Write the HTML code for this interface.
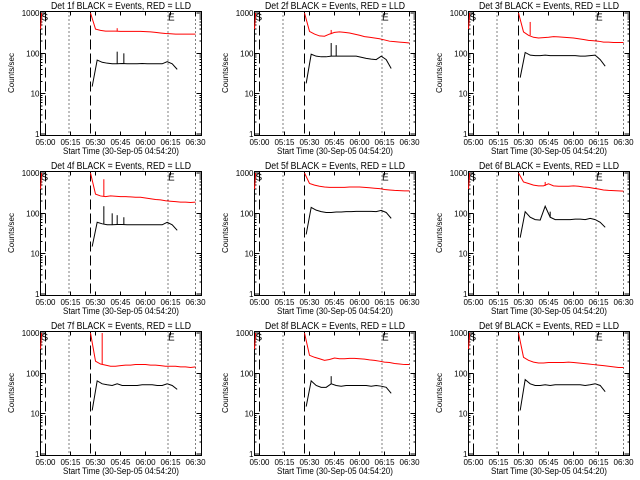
<!DOCTYPE html>
<html><head><meta charset="utf-8"><style>
html,body{margin:0;padding:0;background:#fff;width:640px;height:480px;overflow:hidden}
svg{display:block}
text{font-family:"Liberation Sans",sans-serif;fill:#000}
</style></head><body>
<svg id="chart" width="640" height="480" viewBox="0 0 640 480" xmlns="http://www.w3.org/2000/svg"></svg>
<script>
// time in minutes since 05:00
const redT = [27,30,33,36,39,42,45,48,51,54,57,60,63,66,69,72,75,78,81,84,87,90];
const blackT = [28,31,34,37,40,43,46,49,52,55,58,61,64,67,70,73,76,79];
const tickLabels = ["05:00","05:15","05:30","05:45","06:00","06:15","06:30"];
const tickTimes = [0,15,30,45,60,75,90];
const yTickVals = [1,10,100,1000];
const yTickLabels = ["1","10","100","1000"];
const dashedT = [0,27];
const dottedT = [14,73.5,90];
const detNames = ["1f","2f","3f","4f","5f","6f","7f","8f","9f"];
const red1 = [1000,400,370,355,355,355,350,350,350,350,350,345,340,330,320,310,305,300,300,300,300,300];
const red2 = [1000,350,300,270,265,300,330,340,330,320,300,280,260,250,240,230,215,200,195,190,185,180];
const red3 = [1000,340,280,250,240,245,250,260,255,250,245,240,230,220,210,205,200,190,190,185,185,185];
const red4 = [1000,300,270,260,270,265,260,260,255,250,250,240,230,220,215,205,200,195,190,190,185,190];
const red5 = [1000,550,500,470,450,440,440,440,440,450,450,450,440,430,420,410,390,380,370,365,360,360];
const red6 = [1000,600,550,500,480,480,540,480,470,470,470,480,470,450,440,420,400,380,370,365,360,355];
const red7 = [1000,200,170,160,150,150,155,160,160,165,165,165,160,160,155,150,150,150,145,145,140,145];
const red8 = [1000,280,250,230,210,220,240,230,230,235,235,230,225,215,210,200,190,185,175,170,165,165];
const red9 = [1000,250,210,190,180,180,185,185,185,185,190,185,180,175,170,165,160,155,150,145,140,140];
const black1 = [15,68,60,57,55,55,56,55,55,55,56,55,55,55,55,62,55,40];
const black2 = [18,95,85,82,82,85,85,85,85,85,85,80,75,72,70,85,70,42];
const black3 = [25,105,90,88,88,90,88,88,88,88,88,88,85,85,88,90,70,48];
const black4 = [15,60,55,52,52,53,53,52,52,52,52,52,52,52,52,60,52,38];
const black5 = [30,140,120,110,105,105,108,108,110,110,112,112,112,112,110,118,105,75];
const black6 = [25,110,80,70,68,150,80,70,70,70,70,72,72,70,75,70,60,45];
const black7 = [12,65,55,52,50,55,50,50,50,50,52,52,52,50,50,55,50,40];
const black8 = [15,65,50,45,45,55,50,48,50,50,50,50,50,48,50,48,45,32];
const black9 = [12,70,55,50,50,52,50,52,52,52,52,52,52,50,52,55,50,35];
const redSeries = [red1,red2,red3,red4,red5,red6,red7,red8,red9];
const blackSeries = [black1,black2,black3,black4,black5,black6,black7,black8,black9];
const spikeT1=[43,47], spikeV1=[110,100];
const spikeT2=[43,46], spikeV2=[180,160];
const spikeT4=[35,40,43,47], spikeV4=[150,100,90,80];
const spikeT6=[46], spikeV6=[110];
const spikeT8=[43], spikeV8=[85];
const blackSpikeT=[spikeT1,spikeT2,[],spikeT4,[],spikeT6,[],spikeT8,[]];
const blackSpikeV=[spikeV1,spikeV2,[],spikeV4,[],spikeV6,[],spikeV8,[]];
const redSpikeT=[[43],[43],[34],[35],[],[43],[34],[],[]];
const redSpikeV=[[420],[380],[600],[700],[],[600],[1000],[],[]];
const startRedT=[-3,-2.3];
const startRedV=[400,1000];

const NS="http://www.w3.org/2000/svg";
const svg=document.getElementById('chart');
function mk(tag,attrs,parent){const e=document.createElementNS(NS,tag);for(const k in attrs)e.setAttribute(k,attrs[k]);(parent||svg).appendChild(e);return e;}

const oxs=[0,214,428], oys=[0,160,320];
const K=1.667, W=161;
for(let p=0;p<9;p++){
  const ox=oxs[p%3], oy=oys[Math.floor(p/3)];
  const L=ox+40.5, R=L+W, T=oy+11.5, B=oy+135.5;
  const xS=t=>L+5+t*K;
  const yS=v=>(oy+134)-Math.log10(v)/3*121;
  const g=mk('g',{});
  
  
  const title=mk('text',{x:(L+R)/2,y:oy+9,'font-size':10,'text-anchor':'middle',textLength:140,lengthAdjust:'spacingAndGlyphs'},g);
  title.textContent='Det '+detNames[p]+' BLACK = Events, RED = LLD';
  
  
  const box=mk('rect',{x:L,y:T,width:W,height:B-T,fill:'none',stroke:'#000','stroke-width':1,'shape-rendering':'crispEdges'},g);
  
  
  for(let i=0;i<yTickVals.length;i++){
    const y=yS(yTickVals[i]);
    mk('line',{x1:L,x2:L+5,y1:y,y2:y,stroke:'#000','shape-rendering':'crispEdges'},g);
    mk('line',{x1:R-5,x2:R,y1:y,y2:y,stroke:'#000','shape-rendering':'crispEdges'},g);
    const tl=mk('text',{x:L-1,y:y+3,'font-size':8,'text-anchor':'end'},g);
    tl.textContent=yTickLabels[i];
    
    
    if(i<3){for(let m=2;m<10;m++){const ym=yS(yTickVals[i]*m);
      mk('line',{x1:L,x2:L+2,y1:ym,y2:ym,stroke:'#000','shape-rendering':'crispEdges'},g);
      mk('line',{x1:R-2,x2:R,y1:ym,y2:ym,stroke:'#000','shape-rendering':'crispEdges'},g);}}
  }
  const yl=mk('text',{x:0,y:0,'font-size':8,'text-anchor':'middle',transform:`translate(${ox+14},${oy+73}) rotate(-90)`},g);
  yl.textContent='Counts/sec';
  
  
  for(let i=0;i<tickTimes.length;i++){
    const x=xS(tickTimes[i]);
    mk('line',{x1:x,x2:x,y1:B,y2:B-4,stroke:'#000','shape-rendering':'crispEdges'},g);
    mk('line',{x1:x,x2:x,y1:T,y2:T+4,stroke:'#000','shape-rendering':'crispEdges'},g);
    const xl=mk('text',{x:x,y:oy+145,'font-size':8,'text-anchor':'middle'},g);
    xl.textContent=tickLabels[i];
    
    
  }
  const xt=mk('text',{x:(L+R)/2,y:oy+154,'font-size':9,'text-anchor':'middle',textLength:116,lengthAdjust:'spacingAndGlyphs'},g);
  xt.textContent='Start Time (30-Sep-05 04:54:20)';
  
  
  dashedT.forEach(t=>{const l=mk('line',{x1:xS(t),x2:xS(t),y1:T,y2:B,stroke:'#000','stroke-dasharray':'10,4','shape-rendering':'crispEdges'},g);
    
    });
  dottedT.forEach(t=>{const l=mk('line',{x1:xS(t),x2:xS(t),y1:T,y2:B,stroke:'#000','stroke-dasharray':'1,3','shape-rendering':'crispEdges'},g);
    
    });
  const sl=mk('text',{x:L+1,y:T+9,'font-size':10},g); sl.textContent='S';
  
  
  const el=mk('text',{x:xS(73.5),y:T+9,'font-size':10},g); el.textContent='E';
  
  
  let pts=startRedT.map((t,i)=>xS(t)+','+yS(startRedV[i])).join(' ');
  const rs=mk('polyline',{points:pts,fill:'none',stroke:'#f00','stroke-width':1},g);
  
  
  pts=redT.map((t,i)=>xS(t)+','+yS(redSeries[p][i])).join(' ');
  const rl=mk('polyline',{points:pts,fill:'none',stroke:'#f00','stroke-width':1},g);
  
  
  redSpikeT[p].forEach((t,i)=>{const s=mk('line',{x1:xS(t),x2:xS(t),y1:yS(redSpikeV[p][i]),y2:yS(redSeries[p][Math.min(21,Math.round((t-27)/3))]),stroke:'#f00'},g);
    
    });
  pts=blackT.map((t,i)=>xS(t)+','+yS(blackSeries[p][i])).join(' ');
  const bl=mk('polyline',{points:pts,fill:'none',stroke:'#000','stroke-width':1},g);
  
  
  blackSpikeT[p].forEach((t,i)=>{const s=mk('line',{x1:xS(t),x2:xS(t),y1:yS(blackSpikeV[p][i]),y2:yS(blackSeries[p][Math.min(17,Math.round((t-28)/3))]),stroke:'#000'},g);
    
    });
}
</script>
</body></html>
